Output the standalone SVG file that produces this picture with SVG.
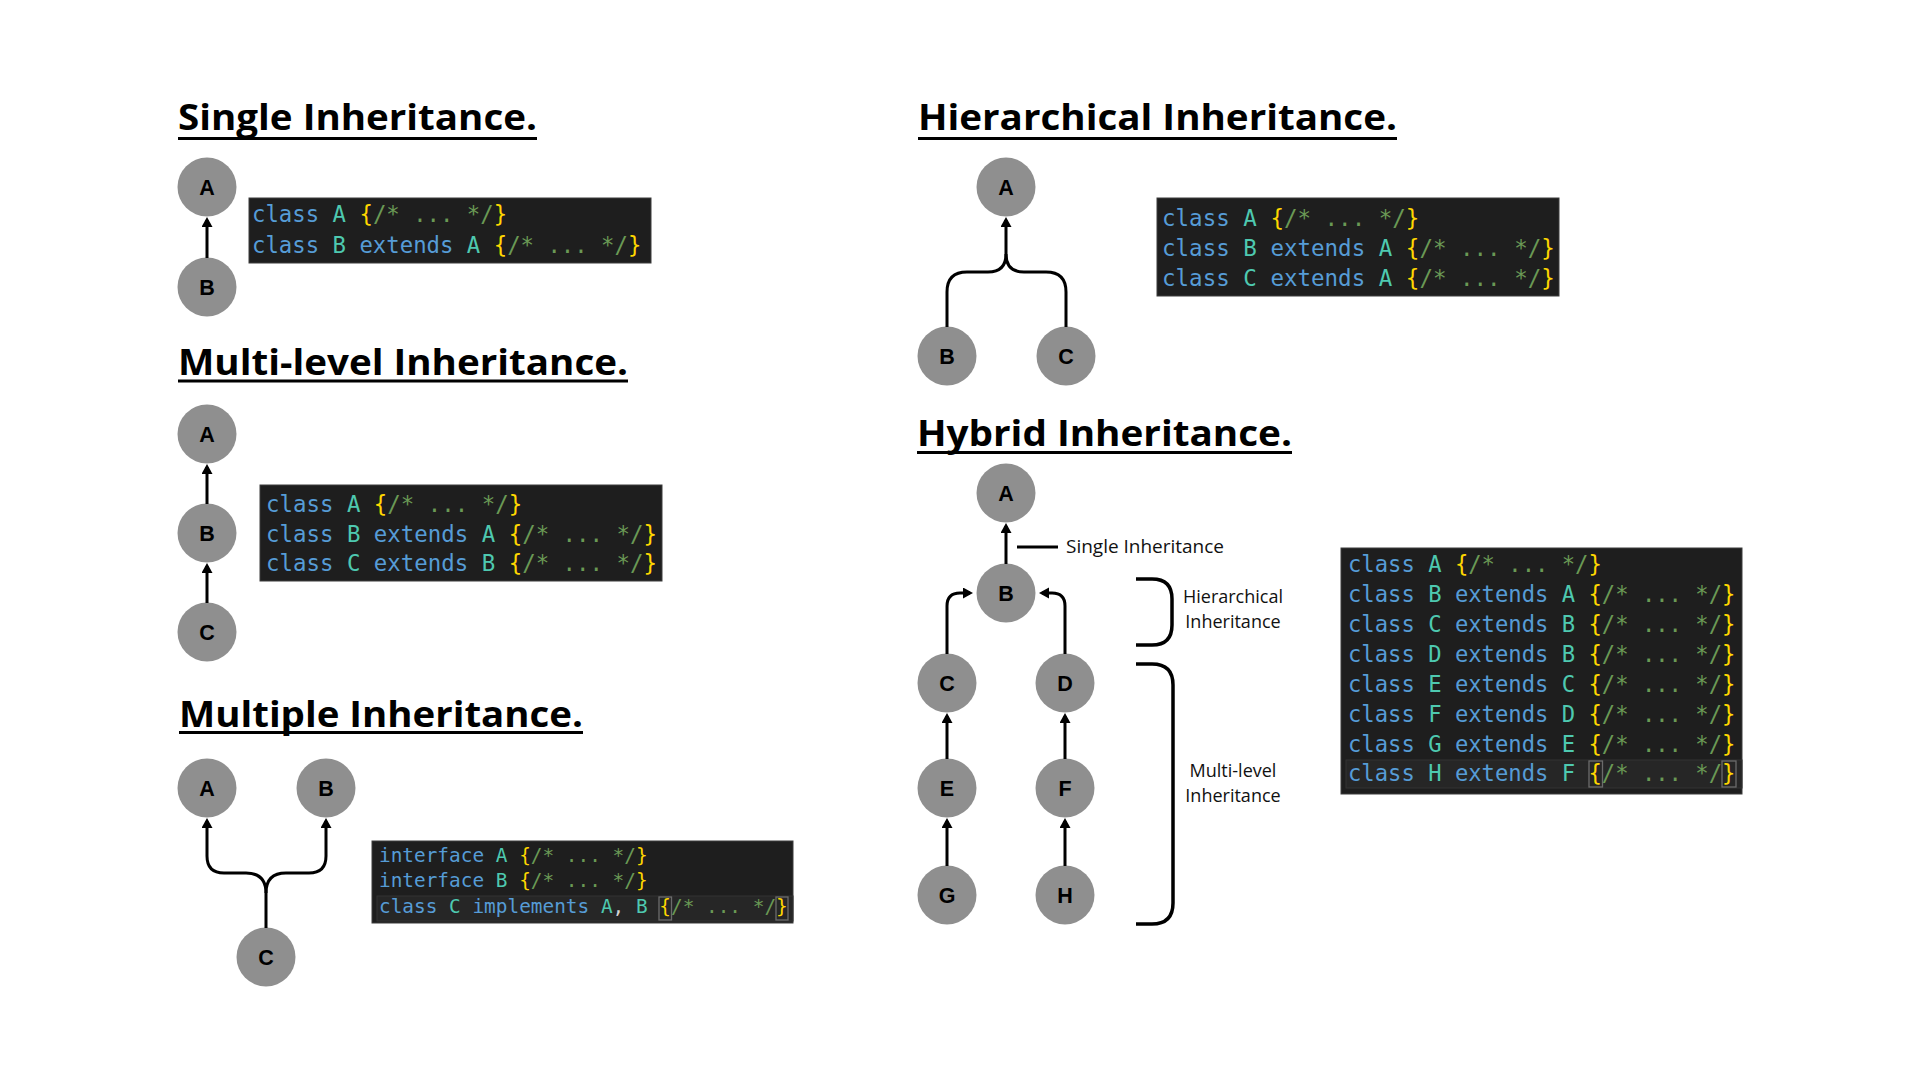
<svg xmlns="http://www.w3.org/2000/svg" width="1920" height="1080" viewBox="0 0 1920 1080">
<defs>
<marker id="arr" markerUnits="userSpaceOnUse" markerWidth="12" markerHeight="12" refX="7" refY="5.5" orient="auto">
<path d="M0,0 L10,5.5 L0,11 z" fill="#000"/>
</marker>
<style>
.title{font-family:"Open Sans","Liberation Sans",sans-serif;font-weight:700;font-size:36px;fill:#000}
.ul{stroke:#000;stroke-width:3}
.node circle{fill:#8f8f8f}
.node text{font-family:"Liberation Sans",Arial,sans-serif;font-weight:700;font-size:21.5px;fill:#000;text-anchor:middle}
.conn path,.conn line{fill:none;stroke:#000;stroke-width:3}
.code{fill:#1e1e1e;stroke:#3c3c3c;stroke-width:1}
.mono{font-family:"DejaVu Sans Mono","Liberation Mono",monospace}
.k{fill:#569cd6}.n{fill:#4ec9b0}.b{fill:#ffd700}.c{fill:#6a9955}.p{fill:#d4d4d4}
.lbl{font-family:"Open Sans","Liberation Sans",sans-serif;font-size:18px;fill:#111}
.brk{fill:none;stroke:#000;stroke-width:3.5}
.hl{fill:#262626;stroke:#333;stroke-width:1}
.bh{fill:none;stroke:#6b6b6b;stroke-width:1.3}
</style>
</defs>
<rect width="1920" height="1080" fill="#fff"/>

<!-- Single Inheritance -->
<g id="single-title">
<text class="title" x="178" y="130" textLength="359" lengthAdjust="spacingAndGlyphs">Single Inheritance.</text>
<line class="ul" x1="178" y1="138.5" x2="537" y2="138.5"/>
</g>
<g id="single-A" class="node"><circle cx="207" cy="187" r="29.5"/><text x="207" y="194.5">A</text></g>
<g id="single-B" class="node"><circle cx="207" cy="287" r="29.5"/><text x="207" y="294.5">B</text></g>
<g id="single-code">
<rect class="code" x="249" y="198" width="402" height="65"/>
<text class="mono" font-size="22.3" xml:space="preserve"><tspan x="252" y="222"><tspan class="k">class</tspan> <tspan class="n">A</tspan> <tspan class="b">{</tspan><tspan class="c">/* ... */</tspan><tspan class="b">}</tspan></tspan><tspan x="252" y="253"><tspan class="k">class</tspan> <tspan class="n">B</tspan> <tspan class="k">extends</tspan> <tspan class="n">A</tspan> <tspan class="b">{</tspan><tspan class="c">/* ... */</tspan><tspan class="b">}</tspan></tspan></text>
</g>

<!-- Multi-level Inheritance -->
<g id="multilevel-title">
<text class="title" x="178" y="375" textLength="450" lengthAdjust="spacingAndGlyphs">Multi-level Inheritance.</text>
<line class="ul" x1="178" y1="381" x2="628" y2="381"/>
</g>
<g id="ml-A" class="node"><circle cx="207" cy="434" r="29.5"/><text x="207" y="441.5">A</text></g>
<g id="ml-B" class="node"><circle cx="207" cy="533" r="29.5"/><text x="207" y="540.5">B</text></g>
<g id="ml-C" class="node"><circle cx="207" cy="632" r="29.5"/><text x="207" y="639.5">C</text></g>
<g id="ml-code">
<rect class="code" x="260" y="485" width="402" height="96"/>
<text class="mono" font-size="22.4" xml:space="preserve"><tspan x="266" y="512"><tspan class="k">class</tspan> <tspan class="n">A</tspan> <tspan class="b">{</tspan><tspan class="c">/* ... */</tspan><tspan class="b">}</tspan></tspan><tspan x="266" y="542"><tspan class="k">class</tspan> <tspan class="n">B</tspan> <tspan class="k">extends</tspan> <tspan class="n">A</tspan> <tspan class="b">{</tspan><tspan class="c">/* ... */</tspan><tspan class="b">}</tspan></tspan><tspan x="266" y="571"><tspan class="k">class</tspan> <tspan class="n">C</tspan> <tspan class="k">extends</tspan> <tspan class="n">B</tspan> <tspan class="b">{</tspan><tspan class="c">/* ... */</tspan><tspan class="b">}</tspan></tspan></text>
</g>

<!-- Multiple Inheritance -->
<g id="multiple-title">
<text class="title" x="179" y="727" textLength="404" lengthAdjust="spacingAndGlyphs">Multiple Inheritance.</text>
<line class="ul" x1="179" y1="732.5" x2="583" y2="732.5"/>
</g>
<g id="mp-A" class="node"><circle cx="207" cy="788" r="29.5"/><text x="207" y="795.5">A</text></g>
<g id="mp-B" class="node"><circle cx="326" cy="788" r="29.5"/><text x="326" y="795.5">B</text></g>
<g id="mp-C" class="node"><circle cx="266" cy="957" r="29.5"/><text x="266" y="964.5">C</text></g>
<g id="mp-code">
<rect class="code" x="372" y="841" width="421" height="82"/>
<rect class="hl" x="377" y="896" width="416" height="25"/>
<rect class="bh" x="659" y="897" width="12.5" height="23"/>
<rect class="bh" x="776" y="897" width="12" height="23"/>
<text class="mono" font-size="19.4" xml:space="preserve"><tspan x="379" y="862"><tspan class="k">interface</tspan> <tspan class="n">A</tspan> <tspan class="b">{</tspan><tspan class="c">/* ... */</tspan><tspan class="b">}</tspan></tspan><tspan x="379" y="887"><tspan class="k">interface</tspan> <tspan class="n">B</tspan> <tspan class="b">{</tspan><tspan class="c">/* ... */</tspan><tspan class="b">}</tspan></tspan><tspan x="379" y="913"><tspan class="k">class</tspan> <tspan class="n">C</tspan> <tspan class="k">implements</tspan> <tspan class="n">A</tspan><tspan class="p">,</tspan> <tspan class="n">B</tspan> <tspan class="b">{</tspan><tspan class="c">/* ... */</tspan><tspan class="b">}</tspan></tspan></text>
</g>

<!-- Hierarchical Inheritance -->
<g id="hierarchical-title">
<text class="title" x="918" y="130" textLength="479" lengthAdjust="spacingAndGlyphs">Hierarchical Inheritance.</text>
<line class="ul" x1="918" y1="138.5" x2="1397" y2="138.5"/>
</g>
<g id="hi-A" class="node"><circle cx="1006" cy="187" r="29.5"/><text x="1006" y="194.5">A</text></g>
<g id="hi-B" class="node"><circle cx="947" cy="356" r="29.5"/><text x="947" y="363.5">B</text></g>
<g id="hi-C" class="node"><circle cx="1066" cy="356" r="29.5"/><text x="1066" y="363.5">C</text></g>
<g id="hi-code">
<rect class="code" x="1157" y="198" width="402" height="98"/>
<text class="mono" font-size="22.5" xml:space="preserve"><tspan x="1162" y="226"><tspan class="k">class</tspan> <tspan class="n">A</tspan> <tspan class="b">{</tspan><tspan class="c">/* ... */</tspan><tspan class="b">}</tspan></tspan><tspan x="1162" y="256"><tspan class="k">class</tspan> <tspan class="n">B</tspan> <tspan class="k">extends</tspan> <tspan class="n">A</tspan> <tspan class="b">{</tspan><tspan class="c">/* ... */</tspan><tspan class="b">}</tspan></tspan><tspan x="1162" y="286"><tspan class="k">class</tspan> <tspan class="n">C</tspan> <tspan class="k">extends</tspan> <tspan class="n">A</tspan> <tspan class="b">{</tspan><tspan class="c">/* ... */</tspan><tspan class="b">}</tspan></tspan></text>
</g>

<!-- Hybrid Inheritance -->
<g id="hybrid-title">
<text class="title" x="917" y="446" textLength="375" lengthAdjust="spacingAndGlyphs">Hybrid Inheritance.</text>
<line class="ul" x1="917" y1="452.5" x2="1292" y2="452.5"/>
</g>
<g id="hy-A" class="node"><circle cx="1006" cy="493" r="29.5"/><text x="1006" y="500.5">A</text></g>
<g id="hy-B" class="node"><circle cx="1006" cy="593" r="29.5"/><text x="1006" y="600.5">B</text></g>
<g id="hy-C" class="node"><circle cx="947" cy="683" r="29.5"/><text x="947" y="690.5">C</text></g>
<g id="hy-D" class="node"><circle cx="1065" cy="683" r="29.5"/><text x="1065" y="690.5">D</text></g>
<g id="hy-E" class="node"><circle cx="947" cy="788" r="29.5"/><text x="947" y="795.5">E</text></g>
<g id="hy-F" class="node"><circle cx="1065" cy="788" r="29.5"/><text x="1065" y="795.5">F</text></g>
<g id="hy-G" class="node"><circle cx="947" cy="895" r="29.5"/><text x="947" y="902.5">G</text></g>
<g id="hy-H" class="node"><circle cx="1065" cy="895" r="29.5"/><text x="1065" y="902.5">H</text></g>
<g id="hy-annotations">
<line x1="1017" y1="547" x2="1058" y2="547" stroke="#000" stroke-width="3"/>
<text class="lbl" x="1066" y="553" textLength="158" lengthAdjust="spacingAndGlyphs">Single Inheritance</text>
<path class="brk" d="M1136,579 L1152,579 Q1172,579 1172,599 L1172,625 Q1172,645 1152,645 L1136,645"/>
<text class="lbl" x="1233" y="603" text-anchor="middle">Hierarchical</text>
<text class="lbl" x="1233" y="628" text-anchor="middle">Inheritance</text>
<path class="brk" d="M1136,664 L1152,664 Q1173,664 1173,685 L1173,903 Q1173,924 1152,924 L1136,924"/>
<text class="lbl" x="1233" y="777" text-anchor="middle">Multi-level</text>
<text class="lbl" x="1233" y="802" text-anchor="middle">Inheritance</text>
</g>
<g id="hy-code">
<rect class="code" x="1341" y="548" width="401" height="246"/>
<rect class="hl" x="1346" y="760" width="396" height="28"/>
<rect class="bh" x="1589" y="761" width="13.5" height="26"/>
<rect class="bh" x="1722" y="761" width="14" height="26"/>
<text class="mono" font-size="22.2" xml:space="preserve"><tspan x="1348" y="572"><tspan class="k">class</tspan> <tspan class="n">A</tspan> <tspan class="b">{</tspan><tspan class="c">/* ... */</tspan><tspan class="b">}</tspan></tspan><tspan x="1348" y="602"><tspan class="k">class</tspan> <tspan class="n">B</tspan> <tspan class="k">extends</tspan> <tspan class="n">A</tspan> <tspan class="b">{</tspan><tspan class="c">/* ... */</tspan><tspan class="b">}</tspan></tspan><tspan x="1348" y="632"><tspan class="k">class</tspan> <tspan class="n">C</tspan> <tspan class="k">extends</tspan> <tspan class="n">B</tspan> <tspan class="b">{</tspan><tspan class="c">/* ... */</tspan><tspan class="b">}</tspan></tspan><tspan x="1348" y="662"><tspan class="k">class</tspan> <tspan class="n">D</tspan> <tspan class="k">extends</tspan> <tspan class="n">B</tspan> <tspan class="b">{</tspan><tspan class="c">/* ... */</tspan><tspan class="b">}</tspan></tspan><tspan x="1348" y="692"><tspan class="k">class</tspan> <tspan class="n">E</tspan> <tspan class="k">extends</tspan> <tspan class="n">C</tspan> <tspan class="b">{</tspan><tspan class="c">/* ... */</tspan><tspan class="b">}</tspan></tspan><tspan x="1348" y="722"><tspan class="k">class</tspan> <tspan class="n">F</tspan> <tspan class="k">extends</tspan> <tspan class="n">D</tspan> <tspan class="b">{</tspan><tspan class="c">/* ... */</tspan><tspan class="b">}</tspan></tspan><tspan x="1348" y="752"><tspan class="k">class</tspan> <tspan class="n">G</tspan> <tspan class="k">extends</tspan> <tspan class="n">E</tspan> <tspan class="b">{</tspan><tspan class="c">/* ... */</tspan><tspan class="b">}</tspan></tspan><tspan x="1348" y="781"><tspan class="k">class</tspan> <tspan class="n">H</tspan> <tspan class="k">extends</tspan> <tspan class="n">F</tspan> <tspan class="b">{</tspan><tspan class="c">/* ... */</tspan><tspan class="b">}</tspan></tspan></text>
</g>

<!-- Connectors -->
<g id="connectors" class="conn">
<line x1="207" y1="258" x2="207" y2="220" marker-end="url(#arr)"/>
<line x1="207" y1="504" x2="207" y2="467" marker-end="url(#arr)"/>
<line x1="207" y1="603" x2="207" y2="566" marker-end="url(#arr)"/>
<path d="M266,928 L266,893 Q266,873 246,873 L224,873 Q207,873 207,856 L207,821" marker-end="url(#arr)"/>
<path d="M266,893 Q266,873 286,873 L309,873 Q326,873 326,856 L326,821" marker-end="url(#arr)"/>
<path d="M947,327 L947,292 Q947,272 967,272 L988,272 Q1006,272 1006,254 L1006,220" marker-end="url(#arr)"/>
<path d="M1066,327 L1066,292 Q1066,272 1046,272 L1024,272 Q1006,272 1006,254"/>
<line x1="1006" y1="564" x2="1006" y2="526" marker-end="url(#arr)"/>
<path d="M947,654 L947,606 Q947,593 960,593 L970,593" marker-end="url(#arr)"/>
<path d="M1065,654 L1065,606 Q1065,593 1052,593 L1042,593" marker-end="url(#arr)"/>
<line x1="947" y1="759" x2="947" y2="716" marker-end="url(#arr)"/>
<line x1="1065" y1="759" x2="1065" y2="716" marker-end="url(#arr)"/>
<line x1="947" y1="866" x2="947" y2="821" marker-end="url(#arr)"/>
<line x1="1065" y1="866" x2="1065" y2="821" marker-end="url(#arr)"/>
</g>
</svg>
